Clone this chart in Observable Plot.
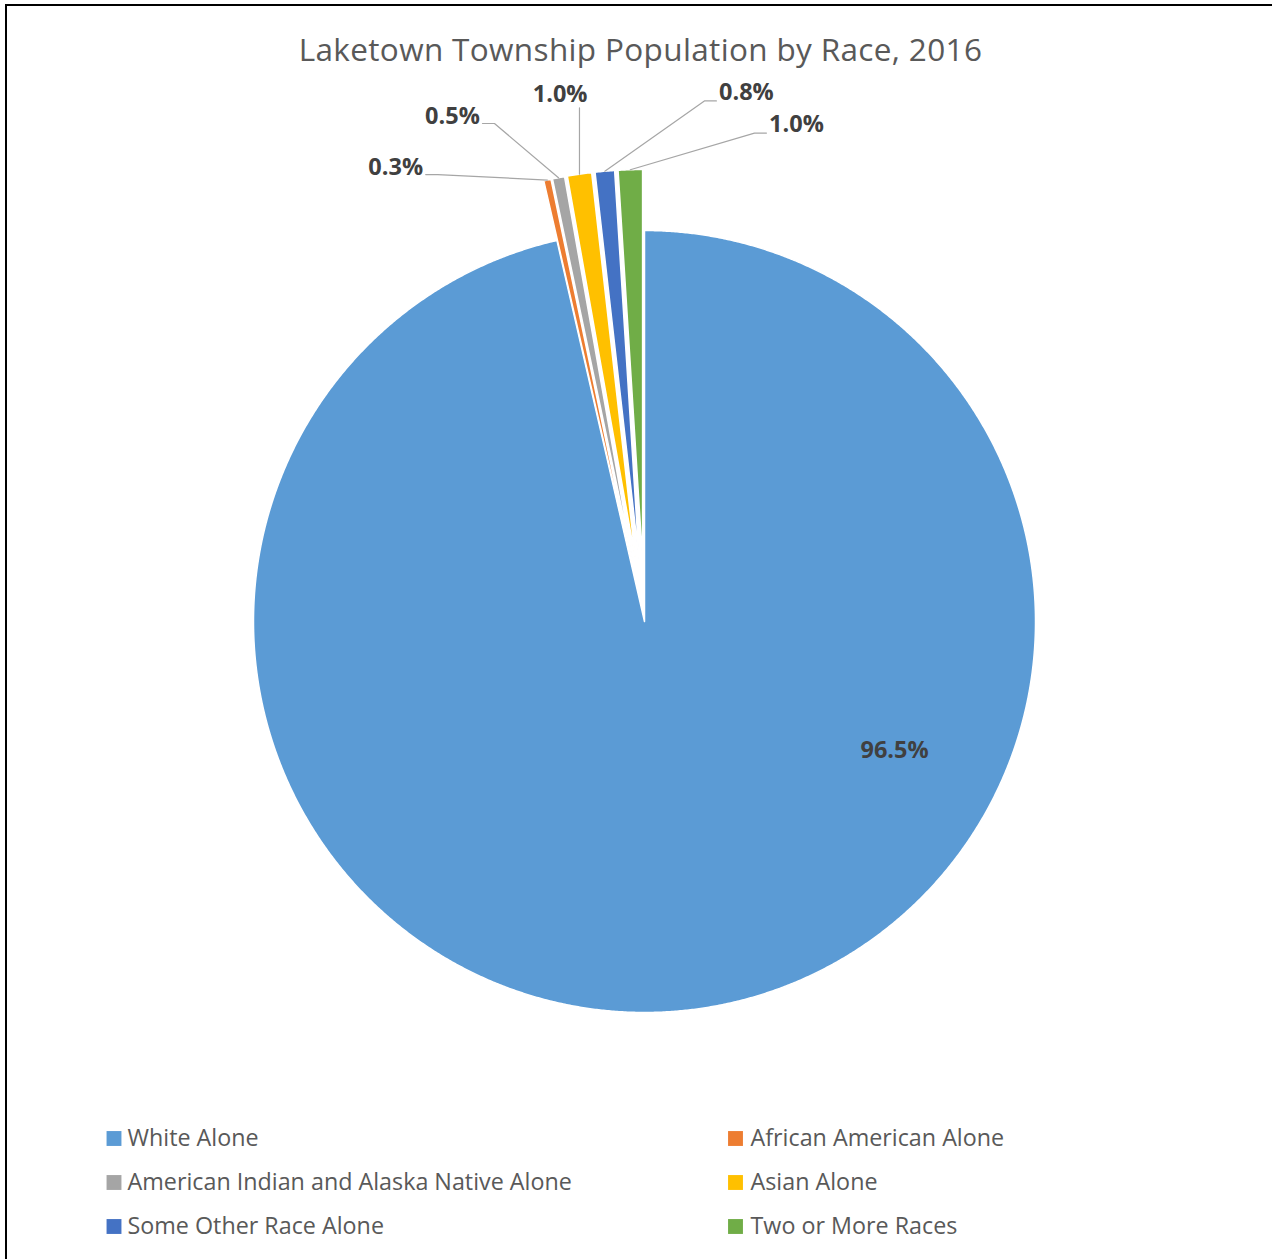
<!DOCTYPE html>
<html><head><meta charset="utf-8">
<script src="https://cdn.jsdelivr.net/npm/d3@7"></script>
<script src="https://cdn.jsdelivr.net/npm/@observablehq/plot@0.6"></script>
<style>
html,body{margin:0;padding:0;background:#fff;}
#wrap{position:relative;width:1272px;height:1259px;overflow:hidden;background:#fff;}
#frame{position:absolute;left:5px;top:4px;right:-10px;bottom:-10px;border-top:2.5px solid #000;border-left:2.5px solid #000;pointer-events:none;}
</style></head><body>
<div id="wrap"><div id="chart"></div><div id="frame"></div></div>
<script>
// ---- data ----
const categories = ["White Alone","African American Alone","American Indian and Alaska Native Alone","Asian Alone","Some Other Race Alone","Two or More Races"];
const values = [96.5, 0.3, 0.5, 1.0, 0.8, 1.0];
const colors = ["#5B9BD5","#ED7D31","#A5A5A5","#FFC000","#4472C4","#70AD47"];
const title = "Laketown Township Population by Race, 2016";

// ---- layout ----
const W = 1272, H = 1259, CX = 644, CY = 621, R = 391, EXPLODE = 61;
const labelAngle = [117.2, -28.7, -20.8, -9.1, 10.9, 17.0]; // degrees clockwise from 12 o'clock
const labelDist  = [0.719, 1.325, 1.383, 1.364, 1.378, 1.329]; // in radii from pie centre
const legendSquareX = [113.5, 735], legendTextX = [127, 750], legendRowY = [1138, 1182, 1226];
const titleX = 640, titleY = 50;
const labelFont = 23.5, labelHalfW = 27;

const data = categories.map((name, i) => ({name, value: values[i], color: colors[i]}));
const arcs = d3.pie().sort(null).value(d => d.value)(data);

const slicePts = [];
const labels = [];
const leaderPts = [];
arcs.forEach((a, i) => {
  const mid = (a.startAngle + a.endAngle) / 2;
  const off = i === 0 ? 0 : EXPLODE;
  const cx = CX + off * Math.sin(mid), cy = CY - off * Math.cos(mid);
  const name = a.data.name;
  slicePts.push({name, x: cx, y: cy});
  const step = Math.PI / 720;
  for (let t = a.startAngle; t < a.endAngle; t += step)
    slicePts.push({name, x: cx + R * Math.sin(t), y: cy - R * Math.cos(t)});
  slicePts.push({name, x: cx + R * Math.sin(a.endAngle), y: cy - R * Math.cos(a.endAngle)});

  const la = labelAngle[i] * Math.PI / 180;
  const lx = CX + labelDist[i] * R * Math.sin(la), ly = CY - labelDist[i] * R * Math.cos(la);
  labels.push({name, x: lx, y: ly, text: d3.format(".1f")(a.data.value) + "%"});

  if (i > 0) {
    const px = cx + R * Math.sin(mid), py = cy - R * Math.cos(mid);
    if (px > lx - labelHalfW && px < lx + labelHalfW) {
      leaderPts.push({name, x: px, y: ly + 13}, {name, x: px, y: py});
    } else if (lx < px) {
      const sx = lx + labelHalfW + 3, sy = ly + 7.5;
      leaderPts.push({name, x: sx, y: sy}, {name, x: sx + 12, y: sy}, {name, x: px, y: py});
    } else {
      const sx = lx - labelHalfW - 3, sy = ly + 8.5;
      leaderPts.push({name, x: sx, y: sy}, {name, x: sx - 12, y: sy}, {name, x: px, y: py});
    }
  }
});

const legend = data.map((d, i) => ({
  name: d.name,
  sx: legendSquareX[i % 2], tx: legendTextX[i % 2], y: legendRowY[Math.floor(i / 2)]
}));

const chart = Plot.plot({
  width: W, height: H, margin: 0,
  x: {domain: [0, W], range: [0, W], axis: null},
  y: {domain: [0, H], range: [0, H], axis: null},
  color: {domain: categories, range: colors},
  style: {background: "transparent"},
  marks: [
    Plot.line(slicePts, {x: "x", y: "y", z: "name", fill: "name", stroke: "white", strokeWidth: 1.5, curve: "linear-closed"}),
    Plot.line(leaderPts, {x: "x", y: "y", z: "name", stroke: "#A6A6A6", strokeWidth: 1.2}),
    Plot.text(labels, {x: "x", y: "y", text: "text", fontFamily: "Open Sans", fontWeight: "bold", fontSize: labelFont, fill: "#404040", lineAnchor: "middle"}),
    Plot.text([title], {x: () => titleX, y: () => titleY, text: d => d, fontFamily: "Open Sans", fontSize: 31.5, fill: "#595959", lineAnchor: "middle"}),
    Plot.dot(legend, {x: "sx", y: "y", symbol: "square", r: 8.4, fill: "name"}),
    Plot.text(legend, {x: "tx", y: "y", text: "name", textAnchor: "start", fontFamily: "Open Sans", fontSize: 23.3, fill: "#595959", lineAnchor: "middle"})
  ]
});
chart.querySelectorAll("text").forEach(t => { if (t.textContent === title) t.style.letterSpacing = "0.35px"; });
document.getElementById("chart").appendChild(chart);
</script>
</body></html>
